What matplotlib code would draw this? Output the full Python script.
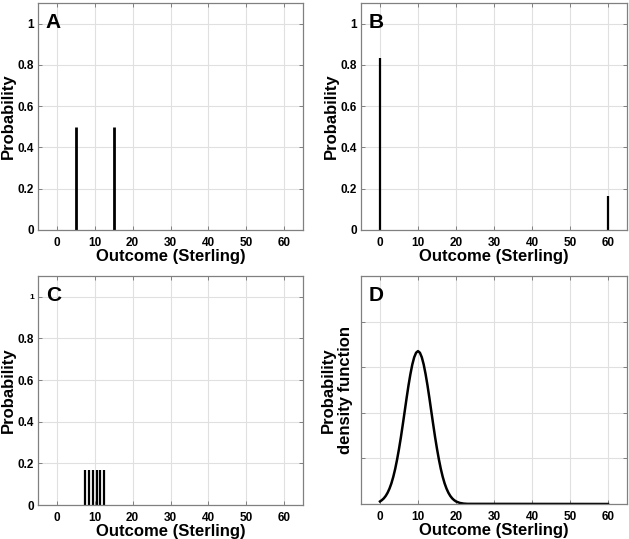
import matplotlib
matplotlib.use("Agg")
import matplotlib.pyplot as plt

plt.rcParams['font.family'] = ['Liberation Sans', 'DejaVu Sans']
plt.rcParams['font.weight'] = 'bold'

# Data
a_x = [5, 15]
a_p = [0.5, 0.5]
b_x = [0, 60]
b_p = [0.833, 0.167]
c_x = [7.5, 8.5, 9.5, 10.5, 11.5, 12.5]
c_p = [0.167, 0.167, 0.167, 0.167, 0.167, 0.167]
d_x = [0, 0.5, 1, 1.5, 2, 2.5, 3, 3.5, 4, 4.5, 5, 5.5, 6, 6.5, 7, 7.5, 8, 8.5, 9, 9.5,
       10, 10.5, 11, 11.5, 12, 12.5, 13, 13.5, 14, 14.5, 15, 15.5, 16, 16.5, 17, 17.5,
       18, 18.5, 19, 19.5, 20, 21, 22, 23, 60]
d_y = [0.0019, 0.0029, 0.0042, 0.0060, 0.0084, 0.0115, 0.0154, 0.0203, 0.0262, 0.0332,
       0.0411, 0.0498, 0.0593, 0.0691, 0.0790, 0.0884, 0.0968, 0.1040, 0.1094, 0.1128,
       0.1140, 0.1128, 0.1094, 0.1040, 0.0968, 0.0884, 0.0790, 0.0691, 0.0593, 0.0498,
       0.0411, 0.0332, 0.0262, 0.0203, 0.0154, 0.0115, 0.0084, 0.0060, 0.0042, 0.0029,
       0.0019, 0.0008, 0.0003, 0.0001, 0.0]
x_ticks = [0, 10, 20, 30, 40, 50, 60]
y_ticks = [0, 0.2, 0.4, 0.6, 0.8, 1.0]
y_ticklabels = ['0', '0.2', '0.4', '0.6', '0.8', '1']
d_ticks = [0, 0.034, 0.068, 0.102, 0.136, 0.17]

fig = plt.figure(figsize=(6.29, 5.39), dpi=100)
W, H = 629, 539

def axes_px(left, top, right, bottom):
    return fig.add_axes([left / W, (H - bottom) / H, (right - left) / W, (bottom - top) / H])

axA = axes_px(38, 3, 303, 230)
axB = axes_px(361, 3, 627, 230)
axC = axes_px(38, 276, 303, 505)
axD = axes_px(361, 276, 627, 504)

def style(ax, letter):
    ax.set_xlim(-5, 65)
    ax.set_xticks(x_ticks)
    ax.grid(True, color='#e0e0e0', linewidth=0.8)
    ax.set_axisbelow(True)
    for s in ax.spines.values():
        s.set_color('#808080')
        s.set_linewidth(0.9)
    ax.tick_params(direction='in', length=3, width=0.7, color='#808080',
                   top=True, right=True, labelsize=8.5, pad=3)
    ax.tick_params(axis='x', pad=5)
    for lab in ax.get_xticklabels() + ax.get_yticklabels():
        lab.set_fontweight('bold')
    ax.set_xlabel('Outcome (Sterling)', fontsize=12, fontweight='bold', labelpad=0)
    ax.text(0.03, 0.955, letter, transform=ax.transAxes, fontsize=15,
            fontweight='bold', va='top', ha='left')

for ax, xs, ps, letter, lw in [(axA, a_x, a_p, 'A', 2.0), (axB, b_x, b_p, 'B', 1.6), (axC, c_x, c_p, 'C', 1.6)]:
    ax.vlines(xs, 0, ps, color='black', linewidth=lw)
    ax.set_ylim(0, 1.1)
    ax.set_yticks(y_ticks)
    ax.set_yticklabels(y_ticklabels)
    ax.set_ylabel('Probability', fontsize=12, fontweight='bold')
    ax.yaxis.set_label_coords(-0.083, 0.5)
    style(ax, letter)

axC.get_yticklabels()[-1].set_fontsize(6)

axD.plot(d_x, d_y, color='black', linewidth=1.8)
axD.set_ylim(0, 0.17)
axD.set_yticks(d_ticks)
axD.set_yticklabels([])
axD.set_ylabel('Probability\ndensity function', fontsize=12, fontweight='bold', linespacing=1.15)
axD.yaxis.set_label_coords(-0.03, 0.5)
style(axD, 'D')

fig.savefig('out.png', dpi=100)
